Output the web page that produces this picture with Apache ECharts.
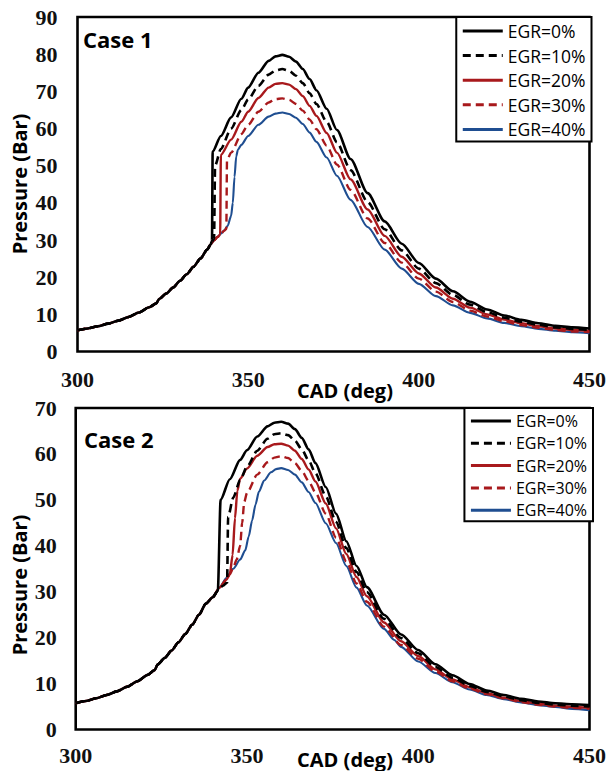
<!DOCTYPE html>
<html>
<head>
<meta charset="utf-8">
<script src="https://cdn.jsdelivr.net/npm/echarts@6/dist/echarts.min.js"></script>
<style>
html,body{margin:0;padding:0;background:#fff;}
#chart{width:609px;height:771px;}
</style>
</head>
<body>
<div id="chart"></div>
<script>
// ---- Data (CAD deg, Pressure bar) ----
var seriesNames = ['EGR=0%', 'EGR=10%', 'EGR=20%', 'EGR=30%', 'EGR=40%'];
var xTicks = [300, 350, 400, 450];

// shared compression stroke (before ignition)
var compression = [[300,5.7],[303,6.2],[306,6.8],[309,7.5],[312,8.3],[315,9.3],[318,10.5],[321,11.9],[323,12.9],[324,14.2],[326,15.6],[328,17.2],[330,19],[332,20.8],[334,22.8],[336,25],[338,27.4]];

// Case 1
var case1_egr0 = [[339,28.8],[339.4,29.8],[339.6,53.8],[342,58],[345,63],[348,68],[350,71],[353,75],[356,78.2],[358,79.4],[360,79.8],[362,79.3],[364,78],[366,76],[368,73.3],[370,70.3],[373,65.3],[376,59.6],[380,51.8],[385,42.6],[390,35],[395,29],[400,23.8],[405,19.6],[410,16.2],[415,13.4],[420,11.3],[425,9.7],[430,8.5],[435,7.6],[440,6.9],[445,6.5],[450,6.2]];
var case1_egr10 = [[339,28.8],[340,30.2],[340.3,50],[342,54.5],[345,60],[348,65],[350,67.8],[353,71.5],[356,74.5],[358,75.6],[360,76],[362,75.5],[364,74.2],[366,72.2],[368,69.5],[370,66.6],[373,61.8],[376,56.3],[380,48.8],[385,40.2],[390,32.9],[395,27.2],[400,22.3],[405,18.4],[410,15.2],[415,12.6],[420,10.6],[425,9.1],[430,8],[435,7.2],[440,6.5],[445,6.1],[450,5.8]];
var case1_egr20 = [[339,28.8],[340,29.9],[341,30.8],[341.8,31.4],[342,52.9],[345,57],[348,61.8],[350,64.5],[353,68.2],[356,71],[358,72],[360,72.2],[362,71.8],[364,70.6],[366,68.7],[368,66.1],[370,63.4],[373,58.8],[376,53.5],[380,46.3],[385,38.2],[390,31.1],[395,25.5],[400,21],[405,17.2],[410,14.2],[415,11.8],[420,10],[425,8.6],[430,7.6],[435,6.8],[440,6.2],[445,5.8],[450,5.5]];
var case1_egr30 = [[339,28.8],[340,29.9],[341,30.8],[342,31.7],[343,32.5],[343.6,33],[343.8,51.5],[345,53.5],[348,58.5],[350,61],[353,64.5],[356,67],[358,67.9],[360,68.1],[362,67.7],[364,66.6],[366,64.8],[368,62.4],[370,59.8],[373,55.4],[376,50.3],[380,43.5],[385,35.8],[390,29.2],[395,23.9],[400,19.6],[405,16.1],[410,13.3],[415,11],[420,9.4],[425,8.1],[430,7.1],[435,6.4],[440,5.8],[445,5.4],[450,5.2]];
var case1_egr40 = [[339,28.8],[340,29.9],[341,30.8],[342,31.7],[343,32.6],[344,33.8],[345,36.5],[345.5,40],[346,47],[346.5,52.5],[347,54.3],[348,55.6],[350,58],[353,61],[356,63.2],[358,64],[360,64.3],[362,63.9],[364,62.9],[366,61.2],[368,58.9],[370,56.4],[373,52.2],[376,47.3],[380,40.8],[385,33.5],[390,27.4],[395,22.3],[400,18.2],[405,14.9],[410,12.4],[415,10.4],[420,8.9],[425,7.7],[430,6.8],[435,6.1],[440,5.6],[445,5.2],[450,4.9]];

// Case 2
var case2_egr0 = [[340,28.8],[341.5,30.2],[342.3,50],[345,54.5],[348,58.7],[350,60.8],[353,63.8],[356,66],[358,66.8],[360,67],[362,66.6],[364,65.4],[366,63.5],[368,61],[370,58],[373,52.8],[376,47],[379,41],[382,35.6],[385,31],[390,25],[395,20.7],[400,17.3],[405,14.2],[410,11.8],[415,9.9],[420,8.5],[425,7.5],[430,6.7],[435,6.1],[440,5.7],[445,5.5],[450,5.3]];
var case2_egr10 = [[340,28.8],[341.5,30.2],[343,31.3],[344.2,32],[344.5,46.3],[346,50.5],[348,54.3],[350,57.2],[353,60.7],[356,63.3],[358,64.3],[360,64.5],[362,64.1],[364,62.9],[366,61],[368,58.6],[370,55.8],[373,50.8],[376,45.2],[379,39.5],[382,34.3],[385,29.9],[390,24.1],[395,19.9],[400,16.6],[405,13.6],[410,11.3],[415,9.5],[420,8.2],[425,7.2],[430,6.4],[435,5.8],[440,5.4],[445,5.2],[450,5]];
var case2_egr20 = [[340,28.8],[342,30.9],[344,32.6],[345,33.8],[345.8,38],[346.5,46],[347.2,52],[348,54.6],[350,56.8],[353,59.6],[356,61.5],[358,62.1],[360,62.2],[362,61.8],[364,60.7],[366,58.9],[368,56.6],[370,54],[373,49.2],[376,43.8],[379,38.2],[382,33.2],[385,29],[390,23.3],[395,19.2],[400,16],[405,13.1],[410,10.9],[415,9.2],[420,7.9],[425,6.9],[430,6.2],[435,5.6],[440,5.2],[445,4.9],[450,4.7]];
var case2_egr30 = [[340,28.8],[342,30.9],[344,32.6],[345,33.8],[346,35.2],[347,37],[348,40],[348.6,45],[349.2,49.5],[350,51.5],[353,55.5],[356,58.2],[358,59.2],[360,59.5],[362,59.1],[364,58],[366,56.3],[368,54.1],[370,51.6],[373,47],[376,41.8],[379,36.6],[382,31.8],[385,27.8],[390,22.4],[395,18.4],[400,15.4],[405,12.6],[410,10.5],[415,8.9],[420,7.7],[425,6.8],[430,6],[435,5.4],[440,5],[445,4.7],[450,4.5]];
var case2_egr40 = [[340,28.8],[342,30.9],[344,33],[346,35],[348,37],[349.5,39],[350.5,42],[351.5,45.5],[352.5,49],[353.5,51.8],[355,54.2],[357,56],[358.5,56.7],[360,56.9],[362,56.5],[364,55.5],[366,53.8],[368,51.7],[370,49.3],[373,44.9],[376,40.6],[379,35.6],[382,30.9],[385,27],[390,21.9],[393,19.5],[395,18],[400,14.8],[405,12.3],[410,10.3],[415,8.7],[420,7.5],[425,6.6],[430,5.9],[435,5.3],[440,4.9],[445,4.5],[450,4.2]];

var case1 = [case1_egr0, case1_egr10, case1_egr20, case1_egr30, case1_egr40];
var case2 = [case2_egr0, case2_egr10, case2_egr20, case2_egr30, case2_egr40];

// ---- Styles ----
var RED = '#a8191c', BLUE = '#1f4e91';
var styles = [
  {color:'#000', type:'solid', width:2.6},
  {color:'#000', type:[8,5], width:2.6},
  {color:RED, type:'solid', width:2.4},
  {color:RED, type:[8,5], width:2.4},
  {color:BLUE, type:'solid', width:2.1}
];

var sansFont = "'Open Sans', 'Noto Sans', sans-serif";
var serifFont = "'Liberation Serif', 'DejaVu Serif', serif";

function xAxisCfg(gi, margin){
  return {
    type:'value', gridIndex:gi, min:300, max:450, interval:50,
    axisLine:{show:false}, axisTick:{show:false}, splitLine:{show:false},
    axisLabel:{margin:margin, color:'#111', fontFamily:serifFont, fontWeight:'bold', fontSize:22,
      formatter:function(v){ return xTicks.indexOf(v) >= 0 ? String(v) : ''; }}
  };
}
function yAxisCfg(gi, max, margin){
  return {
    type:'value', gridIndex:gi, min:0, max:max, interval:10,
    axisLine:{show:false}, axisTick:{show:false}, splitLine:{show:false},
    axisLabel:{margin:margin, color:'#111', fontFamily:serifFont, fontWeight:'bold', fontSize:22}
  };
}

var series = [];
[case1, case2].forEach(function(cs, gi){
  cs.forEach(function(d, i){
    series.push({
      type:'line', name:seriesNames[i], xAxisIndex:gi, yAxisIndex:gi,
      data: compression.concat(d),
      showSymbol:false, symbol:'none', smooth:0.25, smoothMonotone:'x',
      lineStyle:{color:styles[i].color, type:styles[i].type, width:styles[i].width},
      itemStyle:{color:styles[i].color},
      z: 10 - i
    });
  });
});

function legendCfg(top, right, fs, lh, gap){
  return {
    orient:'vertical', top:top, right:right,
    data:seriesNames, itemWidth:40, itemHeight:10, itemGap:gap,
    padding:[4, 6, 2, 5],
    borderColor:'#000', borderWidth:2, backgroundColor:'#fff',
    selectedMode:false,
    itemStyle:{opacity:0},
    lineStyle:{width:3},
    textStyle:{fontFamily:sansFont, fontSize:fs, color:'#000', lineHeight:lh}
  };
}

var chart = echarts.init(document.getElementById('chart'), null, {renderer:'svg'});
chart.setOption({
  animation:false,
  backgroundColor:'#fff',
  grid:[
    {left:77.5, top:17, width:513.5, height:334.5, show:true, borderColor:'#000', borderWidth:2.6, backgroundColor:'transparent'},
    {left:75.7, top:408, width:517.3, height:321.5, show:true, borderColor:'#000', borderWidth:2.6, backgroundColor:'transparent'}
  ],
  xAxis:[xAxisCfg(0, 17), xAxisCfg(1, 15)],
  yAxis:[yAxisCfg(0, 90, 20), yAxisCfg(1, 70, 19)],
  legend:[legendCfg(17, 17.5, 17.5, 20, 4.6), legendCfg(408, 16, 16, 18, 4.3)],
  graphic:[
    {type:'text', left:83, top:28, style:{text:'Case 1', font:"bold 22px 'Open Sans'", fill:'#000'}},
    {type:'text', left:84, top:428, style:{text:'Case 2', font:"bold 22px 'Open Sans'", fill:'#000'}},
    {type:'text', x:19, y:184, rotation:Math.PI/2, style:{text:'Pressure (Bar)', font:"bold 20px 'Open Sans'", fill:'#000', align:'center', verticalAlign:'middle'}},
    {type:'text', x:19, y:585, rotation:Math.PI/2, style:{text:'Pressure (Bar)', font:"bold 20px 'Open Sans'", fill:'#000', align:'center', verticalAlign:'middle'}},
    {type:'text', x:345, y:390, style:{text:'CAD (deg)', font:"bold 20px 'Open Sans'", fill:'#000', align:'center', verticalAlign:'middle'}},
    {type:'text', x:345, y:759, style:{text:'CAD (deg)', font:"bold 20px 'Open Sans'", fill:'#000', align:'center', verticalAlign:'middle'}}
  ],
  series:series
});
</script>
</body>
</html>
